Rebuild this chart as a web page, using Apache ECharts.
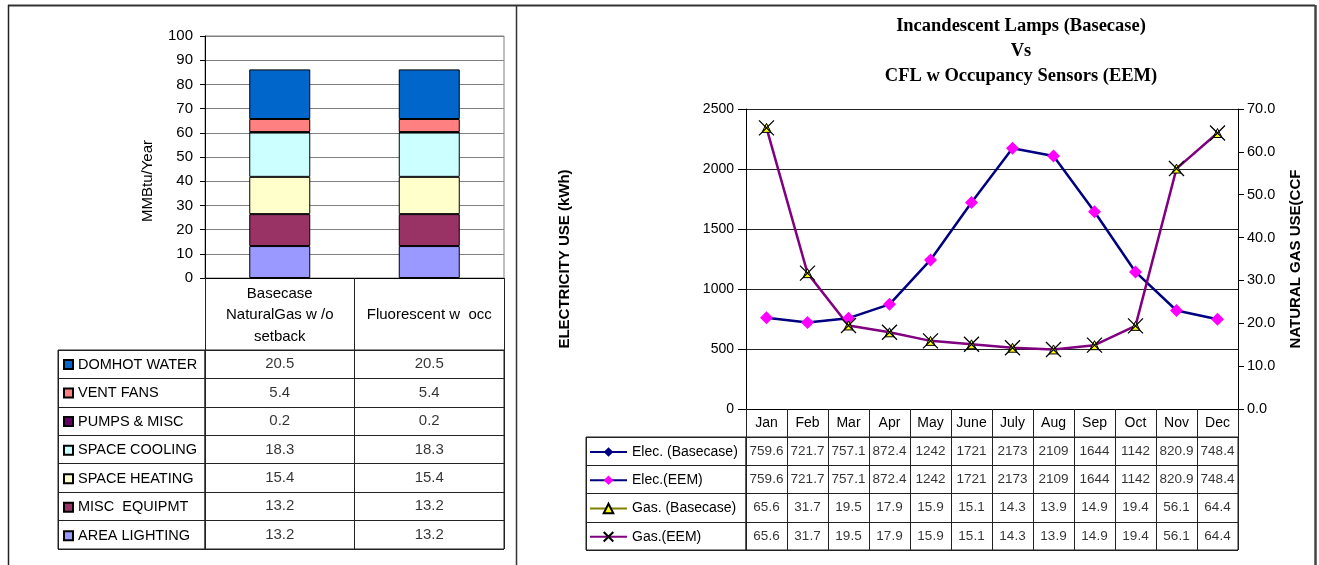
<!DOCTYPE html>
<html>
<head>
<meta charset="utf-8">
<script src="https://cdn.jsdelivr.net/npm/echarts@6/dist/echarts.min.js"></script>
<style>
html, body { margin: 0; padding: 0; background: #fff; }
#chart { width: 1319px; height: 565px; }
</style>
</head>
<body>
<div id="chart"></div>
<script>
// ---- Annual end-use energy (stacking order, bottom to top) ----
const endUses = ['AREA LIGHTING', 'MISC  EQUIPMT', 'SPACE HEATING', 'SPACE COOLING', 'PUMPS & MISC', 'VENT FANS', 'DOMHOT WATER'];
const endUseColors = ['#9999FF', '#993366', '#FFFFCC', '#CCFFFF', '#660066', '#FF8080', '#0066CC'];
const scenarios = ['Basecase\nNaturalGas w /o\nsetback', 'Fluorescent w  occ'];
const basecaseMMBtu = [13.2, 13.2, 15.4, 18.3, 0.2, 5.4, 20.5];
const fluorescentMMBtu = [13.2, 13.2, 15.4, 18.3, 0.2, 5.4, 20.5];

// ---- Monthly electricity and gas use ----
const months = ['Jan', 'Feb', 'Mar', 'Apr', 'May', 'June', 'July', 'Aug', 'Sep', 'Oct', 'Nov', 'Dec'];
const elecBasecase = [759.6, 721.7, 757.1, 872.4, 1242, 1721, 2173, 2109, 1644, 1142, 820.9, 748.4];
const elecEEM = [759.6, 721.7, 757.1, 872.4, 1242, 1721, 2173, 2109, 1644, 1142, 820.9, 748.4];
const gasBasecase = [65.6, 31.7, 19.5, 17.9, 15.9, 15.1, 14.3, 13.9, 14.9, 19.4, 56.1, 64.4];
const gasEEM = [65.6, 31.7, 19.5, 17.9, 15.9, 15.1, 14.3, 13.9, 14.9, 19.4, 56.1, 64.4];
const monthlyNames = ['Elec. (Basecase)', 'Elec.(EEM)', 'Gas. (Basecase)', 'Gas.(EEM)'];

const elecTicks = { min: 0, max: 2500, interval: 500 };
const gasTicks = { min: 0, max: 70, interval: 10 };
const energyTicks = { min: 0, max: 100, interval: 10 };

const FONT = 'Liberation Sans';
const LINE = '#222';

// table rows for the end-use data table (top row = top of stack)
const tableRows = endUses.slice().reverse();
const endUseCells = [];
tableRows.forEach((name, r) => {
  const i = endUses.indexOf(name);
  endUseCells.push([0, r, basecaseMMBtu[i]]);
  endUseCells.push([1, r, fluorescentMMBtu[i]]);
});
const monthlySeriesData = [elecBasecase, elecEEM, gasBasecase, gasEEM];
const monthlyCells = [];
monthlySeriesData.forEach((arr, r) => arr.forEach((v, m) => monthlyCells.push([m, r, v])));

const hiddenCat = (gridIndex, data, extra) => Object.assign({
  type: 'category', gridIndex, data, boundaryGap: true,
  axisLine: { show: false }, axisTick: { show: false }, axisLabel: { show: false },
  splitLine: { show: true, interval: 0, lineStyle: { color: LINE, width: 1 } }
}, extra || {});

const endUseSeries = endUses.map((name, i) => ({
  name, type: 'bar', stack: 'total', xAxisIndex: 0, yAxisIndex: 0,
  barWidth: 61, data: [basecaseMMBtu[i], fluorescentMMBtu[i]],
  itemStyle: { color: endUseColors[i], borderColor: '#000', borderWidth: 1 },
  silent: true
}));

const option = {
  animation: false,
  backgroundColor: '#fff',
  textStyle: { fontFamily: FONT },
  grid: [
    { left: 205, top: 36, width: 299, height: 242, show: true, borderColor: '#808080', borderWidth: 1, outerBoundsMode: 'none' },
    { left: 205, top: 350, width: 299, height: 199, show: true, borderColor: LINE, borderWidth: 1, outerBoundsMode: 'none' },
    { left: 58, top: 350, width: 147, height: 199, show: true, borderColor: LINE, borderWidth: 1, outerBoundsMode: 'none' },
    { left: 746, top: 109, width: 492, height: 300, outerBoundsMode: 'none' },
    { left: 746, top: 437, width: 492, height: 113, show: true, borderColor: LINE, borderWidth: 1, outerBoundsMode: 'none' },
    { left: 586, top: 437, width: 160, height: 113, show: true, borderColor: LINE, borderWidth: 1, outerBoundsMode: 'none' }
  ],
  xAxis: [
    {
      type: 'category', gridIndex: 0, data: scenarios, boundaryGap: true,
      axisLine: { lineStyle: { color: '#000', width: 1 } },
      axisTick: { show: true, length: 72, interval: 0, lineStyle: { color: LINE } },
      axisLabel: { interval: 0, color: '#000', fontSize: 15, lineHeight: 21.5, margin: 37, verticalAlign: 'middle', fontFamily: FONT },
      splitLine: { show: false }
    },
    hiddenCat(1, scenarios),
    hiddenCat(2, ['']),
    {
      type: 'category', gridIndex: 3, data: months, boundaryGap: true,
      axisLine: { lineStyle: { color: '#000', width: 1 } },
      axisTick: { show: true, length: 28, interval: 0, lineStyle: { color: LINE } },
      axisLabel: { interval: 0, color: '#000', fontSize: 14, margin: 14, verticalAlign: 'middle', fontFamily: FONT },
      splitLine: { show: false }
    },
    hiddenCat(4, months),
    hiddenCat(5, [''])
  ],
  yAxis: [
    {
      type: 'value', gridIndex: 0, min: energyTicks.min, max: energyTicks.max, interval: energyTicks.interval,
      axisLine: { show: true, lineStyle: { color: '#000' } },
      axisTick: { show: true, length: 5, lineStyle: { color: '#000' } },
      axisLabel: { color: '#000', fontSize: 15, margin: 12, fontFamily: FONT },
      splitLine: { show: true, lineStyle: { color: '#808080', width: 1 } }
    },
    hiddenCat(1, tableRows, { inverse: true }),
    hiddenCat(2, tableRows, { inverse: true }),
    {
      type: 'value', gridIndex: 3, min: elecTicks.min, max: elecTicks.max, interval: elecTicks.interval,
      name: 'ELECTRICITY USE (kWh)', nameLocation: 'middle', nameGap: 174, nameRotate: 90,
      nameTextStyle: { fontSize: 15, fontWeight: 'bold', color: '#000', fontFamily: FONT },
      axisLine: { show: true, lineStyle: { color: '#000' } },
      axisTick: { show: true, length: 8, lineStyle: { color: '#000' } },
      axisLabel: { color: '#000', fontSize: 14, margin: 12, fontFamily: FONT, formatter: v => String(v) },
      splitLine: { show: true, lineStyle: { color: '#222', width: 1 } }
    },
    {
      type: 'value', gridIndex: 3, position: 'right', min: gasTicks.min, max: gasTicks.max, interval: gasTicks.interval,
      name: 'NATURAL GAS USE(CCF', nameLocation: 'middle', nameGap: 50, nameRotate: 90,
      nameTextStyle: { fontSize: 15, fontWeight: 'bold', color: '#000', fontFamily: FONT },
      axisLine: { show: true, lineStyle: { color: '#000' } },
      axisTick: { show: true, length: 6, lineStyle: { color: '#000' } },
      axisLabel: { color: '#000', fontSize: 14.5, margin: 9, fontFamily: FONT, formatter: v => v.toFixed(1) },
      splitLine: { show: false }
    },
    hiddenCat(4, monthlyNames, { inverse: true }),
    hiddenCat(5, monthlyNames, { inverse: true })
  ],
  legend: [
    {
      orient: 'vertical', left: 63, top: 357, padding: 0,
      itemWidth: 9, itemHeight: 9, itemGap: 13.55, icon: 'rect',
      selectedMode: false, data: tableRows,
      textStyle: { fontSize: 14.5, color: '#000', fontFamily: FONT }
    },
    {
      orient: 'vertical', left: 589, top: 445, padding: 0,
      itemWidth: 37, itemHeight: 12, itemGap: 14.25,
      selectedMode: false, data: monthlyNames,
      textStyle: { fontSize: 14, color: '#000', fontFamily: FONT }
    }
  ],
  graphic: [
    // panel frame
    { type: 'line', shape: { x1: 8, y1: 5.5, x2: 1315, y2: 5.5 }, style: { stroke: '#333', lineWidth: 2 }, silent: true },
    { type: 'line', shape: { x1: 8.5, y1: 5, x2: 8.5, y2: 565 }, style: { stroke: '#222', lineWidth: 1.5 }, silent: true },
    { type: 'line', shape: { x1: 516.5, y1: 5, x2: 516.5, y2: 565 }, style: { stroke: '#333', lineWidth: 1.5 }, silent: true },
    { type: 'line', shape: { x1: 1315.5, y1: 5, x2: 1315.5, y2: 565 }, style: { stroke: '#444', lineWidth: 2.5 }, silent: true },
    {
      type: 'text', x: 148, y: 181, rotation: Math.PI / 2, silent: true,
      style: { text: 'MMBtu/Year', fill: '#000', font: '15px "Liberation Sans"', align: 'center', verticalAlign: 'middle' }
    },
    {
      type: 'text', x: 1021, y: 14, silent: true,
      style: {
        text: 'Incandescent Lamps (Basecase)\nVs\nCFL w Occupancy Sensors (EEM)',
        fill: '#000', font: 'bold 18.5px "Liberation Serif"', lineHeight: 25, align: 'center', verticalAlign: 'top'
      }
    }
  ],
  series: [
    ...endUseSeries,
    {
      name: 'endUseTable', type: 'scatter', xAxisIndex: 1, yAxisIndex: 1, silent: true,
      symbolSize: 1, itemStyle: { color: 'transparent' }, data: endUseCells,
      label: { show: true, position: 'inside', formatter: p => String(p.value[2]), color: '#000', fontSize: 15, fontFamily: FONT }
    },
    {
      name: monthlyNames[0], type: 'line', xAxisIndex: 3, yAxisIndex: 3, data: elecBasecase, silent: true,
      symbol: 'diamond', symbolSize: 10,
      lineStyle: { color: '#000080', width: 1 }, itemStyle: { color: '#000080' }
    },
    {
      name: monthlyNames[1], type: 'line', xAxisIndex: 3, yAxisIndex: 3, data: elecEEM, silent: true,
      symbol: 'diamond', symbolSize: 13,
      lineStyle: { color: '#000080', width: 2.5 }, itemStyle: { color: '#FF00FF' }
    },
    {
      name: monthlyNames[2], type: 'line', xAxisIndex: 3, yAxisIndex: 4, data: gasBasecase, silent: true,
      symbol: 'triangle', symbolSize: 9,
      lineStyle: { color: '#808000', width: 1 }, itemStyle: { color: '#FFFF00', borderColor: '#000', borderWidth: 1 }
    },
    {
      name: monthlyNames[3], type: 'line', xAxisIndex: 3, yAxisIndex: 4, data: gasEEM, silent: true,
      symbol: 'path://M0 0L10 10M10 0L0 10', symbolSize: 15,
      lineStyle: { color: '#800080', width: 2.5 }, itemStyle: { color: 'transparent', borderColor: '#000', borderWidth: 1.3 }
    },
    {
      name: 'monthlyTable', type: 'scatter', xAxisIndex: 4, yAxisIndex: 5, silent: true,
      symbolSize: 1, itemStyle: { color: 'transparent' }, data: monthlyCells,
      label: { show: true, position: 'inside', formatter: p => String(p.value[2]), color: '#000', fontSize: 13.5, fontFamily: FONT }
    }
  ]
};

const chart = echarts.init(document.getElementById('chart'), null, { renderer: 'canvas' });
chart.setOption(option);
</script>
</body>
</html>
